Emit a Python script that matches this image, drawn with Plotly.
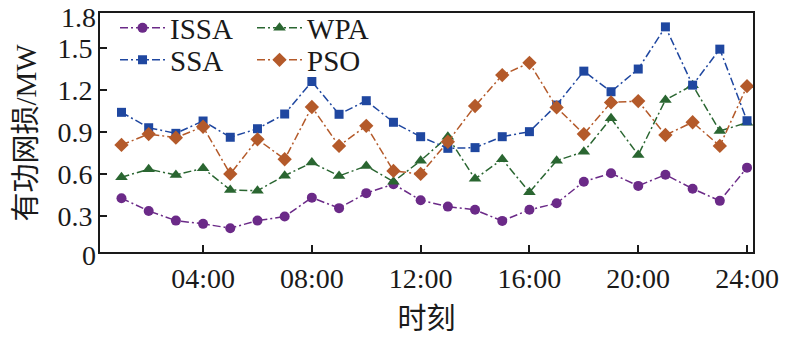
import plotly.graph_objects as go

hours = list(range(1, 25))
issa = [0.427, 0.336, 0.267, 0.244, 0.213, 0.267, 0.296, 0.431, 0.356, 0.463, 0.527, 0.413,
        0.367, 0.344, 0.265, 0.344, 0.391, 0.545, 0.605, 0.515, 0.595, 0.495, 0.408, 0.645]
wpa = [0.577, 0.634, 0.593, 0.641, 0.486, 0.481, 0.588, 0.681, 0.586, 0.657, 0.545, 0.695,
       0.866, 0.565, 0.705, 0.470, 0.695, 0.759, 0.997, 0.736, 1.128, 1.234, 0.907, 0.966]
ssa = [1.040, 0.930, 0.890, 0.978, 0.862, 0.923, 1.028, 1.260, 1.026, 1.123, 0.969, 0.866,
       0.783, 0.788, 0.866, 0.902, 1.092, 1.334, 1.187, 1.349, 1.650, 1.234, 1.491, 0.980]
pso = [0.807, 0.885, 0.859, 0.937, 0.600, 0.847, 0.705, 1.078, 0.800, 0.944, 0.622, 0.600,
       0.830, 1.085, 1.306, 1.393, 1.075, 0.885, 1.111, 1.120, 0.878, 0.969, 0.800, 1.227]

x_tickvals = [4, 8, 12, 16, 20, 24]
x_ticktext = ["04:00", "08:00", "12:00", "16:00", "20:00", "24:00"]
y_tickvals = [0.3, 0.6, 0.9, 1.2, 1.5]
y_ticktext = ["0.3", "0.6", "0.9", "1.2", "1.5"]
y_edge_labels = ["0", "1.8"]
y_title = "有功网损/MW"
x_title = "时刻"

FONT = "Liberation Serif, Times New Roman, Noto Sans CJK SC, serif"
DASH = "8px,3px,2px,3px"
INK = "#1a1a1a"

series = [
    ("ISSA", issa, "#6b2a88", "circle", 10, "legend2"),
    ("WPA", wpa, "#2a6631", "triangle-up", 11, "legend3"),
    ("SSA", ssa, "#1f47a0", "square", 9, "legend4"),
    ("PSO", pso, "#b45a2a", "diamond", 11, "legend5"),
]

fig = go.Figure()
for name, vals, col, sym, sz, lg in series:
    fig.add_trace(go.Scatter(
        x=hours, y=vals, name=name, mode="lines+markers",
        line=dict(color=col, width=1.5, dash=DASH),
        marker=dict(symbol=sym, size=sz, color=col),
        legend=lg, showlegend=True,
    ))

leg_common = dict(font=dict(family=FONT, size=29, color=INK),
                  bgcolor="rgba(0,0,0,0)", borderwidth=0,
                  xref="container", yref="container",
                  xanchor="left", yanchor="middle", itemwidth=45)

fig.update_layout(
    width=790, height=344,
    margin=dict(l=100, r=37, t=13, b=92, autoexpand=False),
    paper_bgcolor="white", plot_bgcolor="white",
    font=dict(family=FONT, size=29, color=INK),
    showlegend=True,
    legend2=dict(x=0.1456, y=0.9186, **leg_common),
    legend4=dict(x=0.1456, y=0.8256, **leg_common),
    legend3=dict(x=0.319, y=0.9186, **leg_common),
    legend5=dict(x=0.319, y=0.8256, **leg_common),
    xaxis=dict(
        range=[0.21, 24.22], tickvals=x_tickvals, ticktext=x_ticktext,
        ticks="inside", ticklen=7, tickwidth=1.5, tickcolor=INK,
        showline=True, linecolor=INK, linewidth=2, mirror=True,
        showgrid=False, zeroline=False, automargin=True,
        tickfont=dict(family=FONT, size=28),
        title=dict(text=x_title, font=dict(family=FONT, size=29), standoff=16),
    ),
    yaxis=dict(
        range=[0.043, 1.749], tickvals=y_tickvals, ticktext=y_ticktext,
        ticks="inside", ticklen=7, tickwidth=1.5, tickcolor=INK,
        showline=True, linecolor=INK, linewidth=2, mirror=True,
        showgrid=False, zeroline=False, automargin=False,
        tickfont=dict(family=FONT, size=28),
    ),
)

for lbl, py in zip(y_edge_labels, [-0.014, 0.983]):
    fig.add_annotation(text=lbl, xref="paper", yref="paper", x=0, y=py,
                       xanchor="right", yanchor="middle", xshift=-2, showarrow=False,
                       font=dict(family=FONT, size=28, color=INK))

fig.add_annotation(text=y_title, xref="paper", yref="paper", x=0, y=0.5,
                   xanchor="center", yanchor="middle", xshift=-75, textangle=-90,
                   showarrow=False, font=dict(family=FONT, size=29, color=INK))

fig.write_html("out.html")
